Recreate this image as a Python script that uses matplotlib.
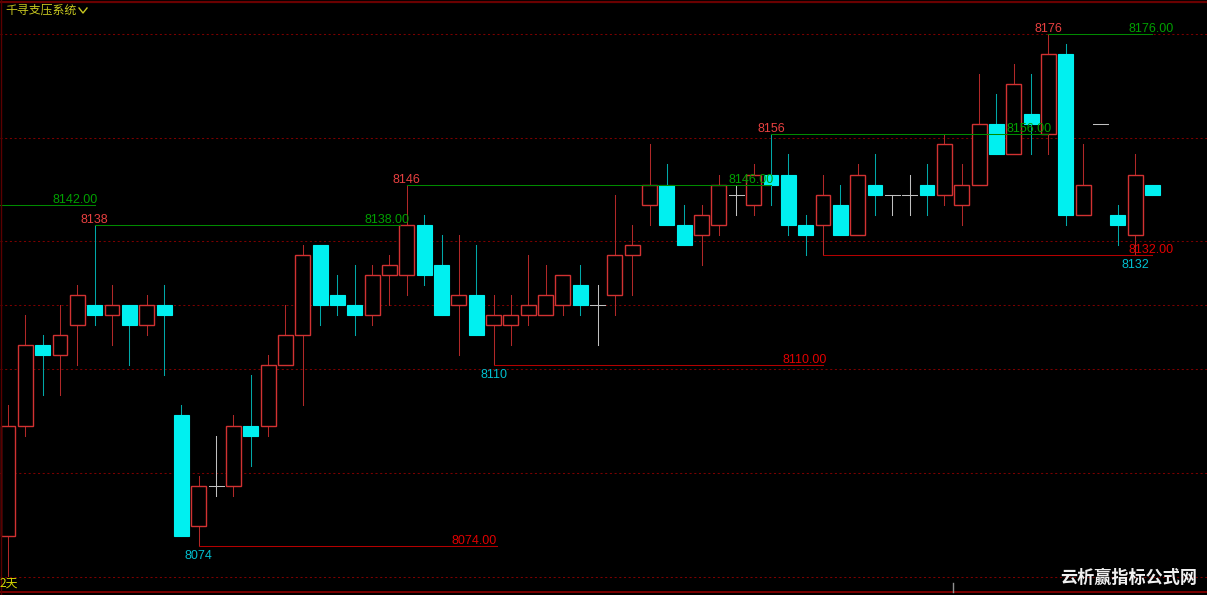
import matplotlib
matplotlib.use('Agg')
import matplotlib.pyplot as plt
from matplotlib.patches import Rectangle
from matplotlib.lines import Line2D
from matplotlib.transforms import IdentityTransform

# ---------------- data ----------------
opens = [8076, 8098, 8114, 8112, 8118, 8122, 8120, 8122, 8118, 8122,
         8100, 8078, 8086, 8086, 8098, 8098, 8110, 8116, 8134, 8124,
         8122, 8120, 8128, 8128, 8138, 8130, 8122, 8124, 8118, 8118,
         8120, 8120, 8122, 8126, 8122, 8124, 8132, 8142, 8146, 8138,
         8136, 8138, 8144, 8142, 8148, 8148, 8138, 8138, 8142, 8136,
         8146, 8144, 8144, 8146, 8144, 8142, 8146, 8158, 8152, 8160,
         8156, 8172, 8140, 8158, 8140, 8136, 8146]
highs = [8102, 8120, 8116, 8122, 8126, 8138, 8126, 8122, 8124, 8126,
         8102, 8088, 8096, 8100, 8108, 8112, 8122, 8134, 8134, 8128,
         8130, 8130, 8132, 8146, 8140, 8136, 8136, 8134, 8124, 8124,
         8132, 8130, 8128, 8130, 8126, 8144, 8138, 8154, 8150, 8142,
         8142, 8148, 8146, 8150, 8156, 8152, 8140, 8148, 8146, 8150,
         8152, 8144, 8148, 8150, 8156, 8150, 8168, 8164, 8170, 8168,
         8176, 8174, 8154, 8158, 8142, 8152, 8146]
lows = [8068, 8096, 8104, 8104, 8110, 8118, 8114, 8110, 8116, 8108,
        8076, 8074, 8084, 8084, 8090, 8096, 8110, 8102, 8118, 8120,
        8116, 8118, 8122, 8124, 8126, 8120, 8112, 8116, 8110, 8114,
        8118, 8120, 8120, 8120, 8114, 8120, 8124, 8138, 8138, 8134,
        8130, 8136, 8140, 8140, 8142, 8136, 8132, 8132, 8136, 8136,
        8140, 8140, 8140, 8140, 8142, 8138, 8146, 8152, 8152, 8152,
        8152, 8138, 8140, 8158, 8134, 8132, 8144]
closes = [8098, 8114, 8112, 8116, 8124, 8120, 8122, 8118, 8122, 8120,
          8076, 8086, 8086, 8098, 8096, 8110, 8116, 8132, 8122, 8122,
          8120, 8128, 8130, 8138, 8128, 8120, 8124, 8116, 8120, 8120,
          8122, 8124, 8128, 8122, 8122, 8132, 8134, 8146, 8138, 8134,
          8140, 8146, 8144, 8148, 8146, 8138, 8136, 8144, 8136, 8148,
          8144, 8144, 8144, 8144, 8154, 8146, 8158, 8152, 8166, 8158,
          8172, 8140, 8146, 8158, 8138, 8148, 8144]

# resistance levels (green lines) : start bar, end bar, price
res_start = [-1, 5, 23, 44, 60]
res_end = [5, 22.6, 44, 60, 66]
res_price = [8142, 8138, 8146, 8156, 8176]
res_label_bar = [None, 5, 23, 44, 60]
res_text_right = [5.19, 23.18, 44.17, 60.2, 67.2]

# support levels (red lines)
sup_start = [11, 28, 47]
sup_end = [28.2, 47, 66]
sup_price = [8074, 8110, 8132]
sup_label_bar = [11, 28, 65]
sup_text_right = [28.2, 47.23, 67.2]

grid_levels = [8176.0, 8155.36, 8134.76, 8122.01, 8109.26, 8088.54, 8067.82]

# ---------------- figure ----------------
W, H = 1207, 595
fig = plt.figure(figsize=(W / 100, H / 100), dpi=100, facecolor='black')
ax = fig.add_axes([0, 0, 1, 1])
ax.set_facecolor('black')
ax.set_xlim(-0.4614, 69.146)
ax.set_ylim(8064.24, 8182.77)
ax.axis('off')

lw1 = 0.75
for lv in grid_levels:
    ax.axhline(lv, color='#7a0000', lw=lw1, ls=(0, (2, 2.5)), zorder=1)

bw = 0.86
UP_EDGE, UP_WICK = '#d23232', '#b02828'
DN_FACE, DN_WICK = '#00f0f0', '#00a8a8'
DOJI = '#c0c0c0'
for i, (o, h, l, c) in enumerate(zip(opens, highs, lows, closes)):
    if c > o:
        if h > c:
            ax.plot([i, i], [c, h], color=UP_WICK, lw=lw1, zorder=3)
        if l < o:
            ax.plot([i, i], [l, o], color=UP_WICK, lw=lw1, zorder=3)
        ax.add_patch(Rectangle((i - bw / 2, o), bw, c - o, facecolor='black',
                               edgecolor=UP_EDGE, lw=1.0, zorder=4))
    elif c < o:
        ax.plot([i, i], [l, h], color=DN_WICK, lw=lw1, zorder=3)
        ax.add_patch(Rectangle((i - bw / 2, c), bw, o - c, facecolor=DN_FACE,
                               edgecolor=DN_FACE, lw=0.8, zorder=4))
    else:
        ax.plot([i - bw / 2, i + bw / 2], [o, o], color=DOJI, lw=lw1, zorder=4)
        if h > l:
            ax.plot([i, i], [l, h], color=DOJI, lw=lw1, zorder=4)

GREEN_LINE, GREEN_TXT = '#008a00', '#00a000'
RED_LINE, RED_TXT = '#b40000', '#e00000'
RED_LABEL, CYAN_LABEL = '#e84040', '#00c0d0'
fnum = dict(family='Liberation Sans', fontsize=9)

for s, e, p, lb, tr in zip(res_start, res_end, res_price, res_label_bar, res_text_right):
    ax.plot([s, e], [p, p], color=GREEN_LINE, lw=lw1, zorder=5)
    ax.annotate(f'{p:.2f}', xy=(tr, p), xytext=(0, 2), textcoords='offset pixels',
                ha='right', va='baseline', color=GREEN_TXT, zorder=6, **fnum)
    if lb is not None:
        ax.annotate(f'{p}', xy=(lb, p), xytext=(0, 2), textcoords='offset pixels',
                    ha='center', va='baseline', color=RED_LABEL, zorder=6, **fnum)

for s, e, p, lb, tr in zip(sup_start, sup_end, sup_price, sup_label_bar, sup_text_right):
    ax.plot([s, e], [p, p], color=RED_LINE, lw=lw1, zorder=5)
    ax.annotate(f'{p:.2f}', xy=(tr, p), xytext=(0, 2), textcoords='offset pixels',
                ha='right', va='baseline', color=RED_TXT, zorder=6, **fnum)
    ax.annotate(f'{p}', xy=(lb, p), xytext=(0, -13), textcoords='offset pixels',
                ha='center', va='baseline', color=CYAN_LABEL, zorder=6, **fnum)

# borders
ax.plot([0, 1], [1 - 2 / H, 1 - 2 / H], transform=ax.transAxes, color='#6a0000', lw=1.6, zorder=7)
ax.plot([0, 1], [3 / H, 3 / H], transform=ax.transAxes, color='#900000', lw=1.2, zorder=7)
ax.plot([0.6 / W, 0.6 / W], [0, 1], transform=ax.transAxes, color='#5a0000', lw=1.0, zorder=7)

cjk = ['Noto Sans CJK SC', 'DejaVu Sans']
fig.text(5 / W, 1 - 10 / H, '千寻支压系统', family=cjk, fontsize=8.6,
         color='#c8c820', ha='left', va='center')
fig.add_artist(Line2D([79, 83, 87], [H - 8, H - 13, H - 8], transform=IdentityTransform(),
                      color='#c8c820', lw=1.0))
fig.text(0, 1 - 583 / H, '2天', family=cjk, fontsize=8.6, color='#d8d800',
         ha='left', va='center')
fig.text(1060 / W, 1 - 578 / H, '云析赢指标公式网', family=cjk, fontsize=12.3,
         weight='bold', color='#f0f0f0', ha='left', va='center')
fig.add_artist(Line2D([953, 953], [H - 583, H - 592], transform=IdentityTransform(),
                      color='#909090', lw=1.0))

fig.savefig('out.png', dpi=100, facecolor='black')
